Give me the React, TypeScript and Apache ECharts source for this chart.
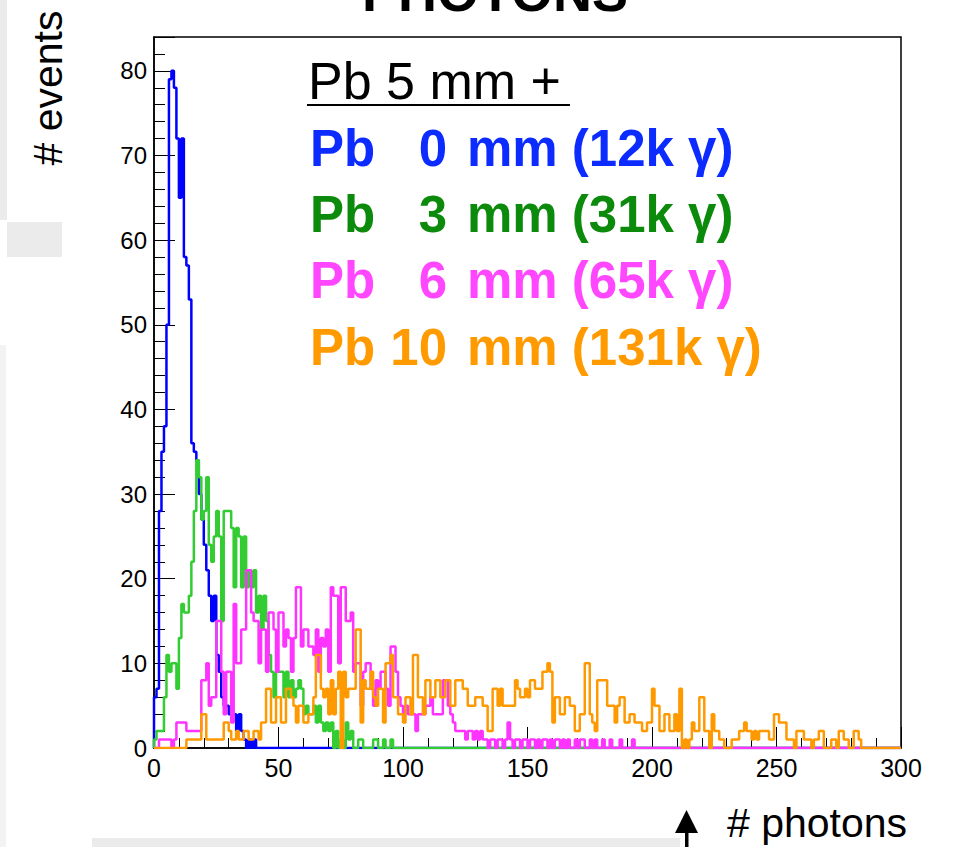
import { useEffect, useRef } from "react";
import * as echarts from "echarts";

// Photon-count histograms, one bin per unit from 0 to 300 (bins past the end of each list are empty).
const pb0mm: number[] = [
  6, 7, 28, 35, 38, 50, 79, 80, 78, 72, 65, 72, 58, 57, 53, 36, 35, 34, 30, 27,
  24, 21, 18, 15, 18, 11, 9, 6, 5, 5, 4, 4, 4, 2, 4, 2, 1, 0, 1, 0, 1,
];

const pb3mm: number[] = [
  1, 2, 2, 2, 6, 11, 9, 10, 10, 7, 13, 17, 16, 16, 18, 22, 28, 34, 32, 27,
  28, 32, 24, 22, 25, 28, 25, 15, 28, 28, 28, 26, 19, 26, 25, 19, 25, 19, 21, 19,
  21, 16, 18, 14, 18, 15, 11, 9, 6, 9, 9, 9, 6, 9, 6, 8, 6, 7, 8, 7,
  4, 5, 4, 4, 5, 3, 5, 3, 2, 3, 2, 3, 0, 2, 0, 1, 0, 3, 1, 2,
  0, 0, 1, 1, 0, 0, 0, 0, 1, 1, 0, 0, 1, 0, 0, 1,
];

const pb6mm: number[] = [
  0, 0, 1, 1, 1, 1, 1, 0, 1, 3, 3, 3, 3, 2, 2, 2, 2, 2, 2, 8,
  8, 10, 5, 6, 6, 15, 15, 9, 4, 9, 9, 3, 17, 10, 10, 14, 14, 21, 21, 16,
  15, 15, 10, 14, 14, 9, 16, 16, 14, 9, 16, 16, 12, 14, 13, 9, 13, 19, 19, 12,
  14, 14, 12, 12, 11, 14, 9, 13, 12, 14, 9, 19, 18, 18, 10, 19, 19, 15, 15, 16,
  9, 10, 10, 5, 9, 10, 10, 7, 5, 8, 7, 9, 9, 7, 5, 12, 12, 9, 6, 5,
  4, 5, 4, 4, 4, 2, 4, 4, 4, 5, 5, 6, 4, 4, 4, 4, 8, 8, 5, 4,
  3, 2, 2, 2, 2, 1, 2, 2, 1, 2, 1, 2, 1, 1, 0, 1, 1, 0, 1, 1,
  0, 1, 3, 1, 0, 1, 1, 0, 1, 1, 0, 1, 1, 0, 1, 0, 1, 1, 0, 1,
  0, 1, 1, 0, 1, 0, 1, 0, 0, 1, 0, 1, 1, 0, 0, 1, 0, 1, 0, 0,
  1, 0, 0, 1, 0, 0, 0, 1, 0, 0, 0, 0, 1,
];

const pb10mm: number[] = [
  0, 0, 0, 0, 0, 0, 0, 0, 0, 0, 0, 0, 0, 1, 1, 1, 1, 1, 1, 4,
  4, 1, 1, 1, 1, 1, 1, 1, 3, 3, 2, 1, 1, 2, 1, 1, 2, 2, 1, 1,
  2, 2, 1, 3, 3, 7, 7, 3, 3, 6, 6, 3, 3, 7, 7, 6, 5, 3, 5, 5,
  3, 3, 4, 4, 6, 11, 11, 7, 6, 7, 4, 8, 4, 7, 9, 0, 9, 6, 7, 7,
  7, 14, 14, 3, 8, 7, 7, 9, 6, 5, 7, 7, 3, 10, 10, 11, 6, 6, 4, 4,
  3, 6, 6, 4, 11, 11, 6, 6, 4, 8, 8, 6, 6, 8, 8, 6, 6, 8, 8, 5,
  5, 8, 8, 8, 7, 7, 5, 5, 5, 6, 6, 6, 5, 5, 2, 2, 7, 7, 5, 7,
  5, 5, 5, 5, 5, 8, 7, 6, 6, 7, 6, 8, 8, 7, 7, 7, 9, 9, 10, 9,
  3, 6, 6, 4, 4, 6, 6, 5, 5, 2, 2, 4, 4, 10, 10, 4, 3, 2, 8, 8,
  8, 8, 5, 5, 5, 3, 5, 6, 6, 3, 3, 4, 4, 3, 3, 3, 2, 2, 3, 3,
  7, 5, 5, 2, 2, 4, 4, 2, 2, 4, 2, 7, 0, 1, 0, 1, 3, 2, 2, 6,
  6, 2, 2, 0, 4, 2, 2, 1, 1, 0, 0, 0, 1, 1, 1, 2, 2, 3, 2, 2,
  1, 2, 1, 2, 2, 2, 2, 1, 1, 4, 4, 3, 3, 3, 1, 1, 1, 0, 2, 2,
  2, 1, 1, 1, 0, 1, 1, 2, 2, 0, 0, 0, 1, 1, 0, 2, 2, 1, 1, 0,
  0, 2, 2, 1,
];

const absorberMm: string[] = ["0", "3", "6", "10"];
const photonTotals: string[] = ["12k", "31k", "65k", "131k"];
const lineColors: string[] = ["#0000ff", "#33cc33", "#ff33ff", "#ff9900"];
const legendColors: string[] = ["#0b2bff", "#0b8a0b", "#ff47ff", "#ff9a00"];

const X_MIN = 0;
const X_MAX = 300;
const Y_MAX = 84;

const FONT = '"Liberation Sans", Arial, Helvetica, sans-serif';

// Outline of a histogram as a step line: bin i spans [i, i + 1).
function histogramOutline(counts: number[]): [number, number][] {
  const pts: [number, number][] = [[X_MIN, 0]];
  counts.forEach((c, i) => pts.push([X_MIN + i, c]));
  pts.push([X_MIN + counts.length, 0]);
  pts.push([X_MAX, 0]);
  return pts;
}

function textEl(
  x: number,
  y: number,
  text: string,
  font: string,
  fill: string,
  align: "left" | "center" | "right",
  extra: Record<string, unknown> = {}
) {
  return {
    type: "text",
    x,
    y,
    silent: true,
    z: 100,
    ...extra,
    style: {
      text,
      font,
      fill,
      align,
      textAlign: align,
      verticalAlign: "middle",
      textVerticalAlign: "middle",
    },
  };
}

export default function App() {
  const ref = useRef<HTMLDivElement>(null);

  useEffect(() => {
    if (!ref.current) return;
    const chart = echarts.init(ref.current, undefined, { renderer: "svg" });

    const histograms = [pb0mm, pb3mm, pb6mm, pb10mm];

    const legendGraphics: any[] = [];
    const rowBaselines = [166, 232, 298, 365];
    const boldFont = `bold 51px ${FONT}`;
    absorberMm.forEach((mm, i) => {
      const cy = rowBaselines[i] - 17.7;
      legendGraphics.push(textEl(310, cy, "Pb", boldFont, legendColors[i], "left"));
      legendGraphics.push(textEl(447, cy, mm, boldFont, legendColors[i], "right"));
      legendGraphics.push(
        textEl(467, cy, `mm (${photonTotals[i]} γ)`, boldFont, legendColors[i], "left")
      );
    });

    const option: any = {
      animation: false,
      backgroundColor: "#ffffff",
      grid: {
        left: 154,
        top: 37,
        right: 57,
        bottom: 99,
        show: true,
        borderColor: "#000000",
        borderWidth: 1.5,
        backgroundColor: "transparent",
        containLabel: false,
      },
      xAxis: [
        {
          type: "value",
          min: X_MIN,
          max: X_MAX,
          interval: 50,
          axisLine: { show: true, lineStyle: { color: "#000", width: 1.5 } },
          axisTick: { show: true, inside: true, length: 21, lineStyle: { color: "#000", width: 1 } },
          minorTick: { show: true, splitNumber: 5, length: 10, lineStyle: { color: "#000", width: 1 } },
          splitLine: { show: false },
          axisLabel: {
            color: "#000",
            fontFamily: FONT,
            fontSize: 25,
            margin: 7,
          },
        },
      ],
      yAxis: [
        {
          type: "value",
          min: 0,
          max: Y_MAX,
          interval: 10,
          position: "left",
          axisLine: { show: true, lineStyle: { color: "#000", width: 1.5 } },
          axisTick: { show: true, inside: true, length: 21, lineStyle: { color: "#000", width: 1 } },
          splitLine: { show: false },
          axisLabel: {
            color: "#000",
            fontFamily: FONT,
            fontSize: 24,
            margin: 7,
            formatter: (v: number) => (v % 10 === 0 ? String(v) : ""),
          },
        },
        {
          type: "value",
          min: 0,
          max: Y_MAX,
          interval: 2,
          position: "left",
          axisLine: { show: false },
          axisTick: { show: true, inside: true, length: 11, lineStyle: { color: "#000", width: 1 } },
          axisLabel: { show: false },
          splitLine: { show: false },
        },
      ],
      series: histograms.map((counts, i) => ({
        type: "line",
        step: "end",
        data: histogramOutline(counts),
        showSymbol: false,
        symbol: "none",
        clip: true,
        lineStyle: { color: lineColors[i], width: 2.5 },
        itemStyle: { color: lineColors[i] },
        z: 2 + i,
      })),
      graphic: [
        { type: "rect", shape: { x: 0, y: 0, width: 7, height: 220 }, style: { fill: "#ebebeb" }, silent: true },
        { type: "rect", shape: { x: 7, y: 222, width: 55, height: 35 }, style: { fill: "#ebebeb" }, silent: true },
        { type: "rect", shape: { x: 0, y: 345, width: 6, height: 502 }, style: { fill: "#f3f3f3" }, silent: true },
        { type: "rect", shape: { x: 92, y: 838, width: 588, height: 9 }, style: { fill: "#ebebeb" }, silent: true },
        textEl(495, -8, "PHOTONS", `bold 54px ${FONT}`, "#000", "center"),
        textEl(48, 88, "# events", `41px ${FONT}`, "#000", "center", { rotation: Math.PI / 2 }),
        textEl(727, 823, "# photons", `41px ${FONT}`, "#000", "left"),
        {
          type: "polygon",
          shape: { points: [[675, 833], [686.5, 810], [698, 833]] },
          style: { fill: "#000" },
          silent: true,
        },
        { type: "rect", shape: { x: 685, y: 830, width: 3.5, height: 17 }, style: { fill: "#000" }, silent: true },
        textEl(308, 81, "Pb 5 mm +", `52px ${FONT}`, "#000", "left"),
        {
          type: "line",
          shape: { x1: 307, y1: 105, x2: 570, y2: 105 },
          style: { stroke: "#000", lineWidth: 2 },
          silent: true,
        },
        ...legendGraphics,
      ],
    };

    chart.setOption(option);
    return () => chart.dispose();
  }, []);

  return (
    <div
      ref={ref}
      style={{ position: "absolute", left: 0, top: 0, width: 958, height: 847 }}
    />
  );
}
